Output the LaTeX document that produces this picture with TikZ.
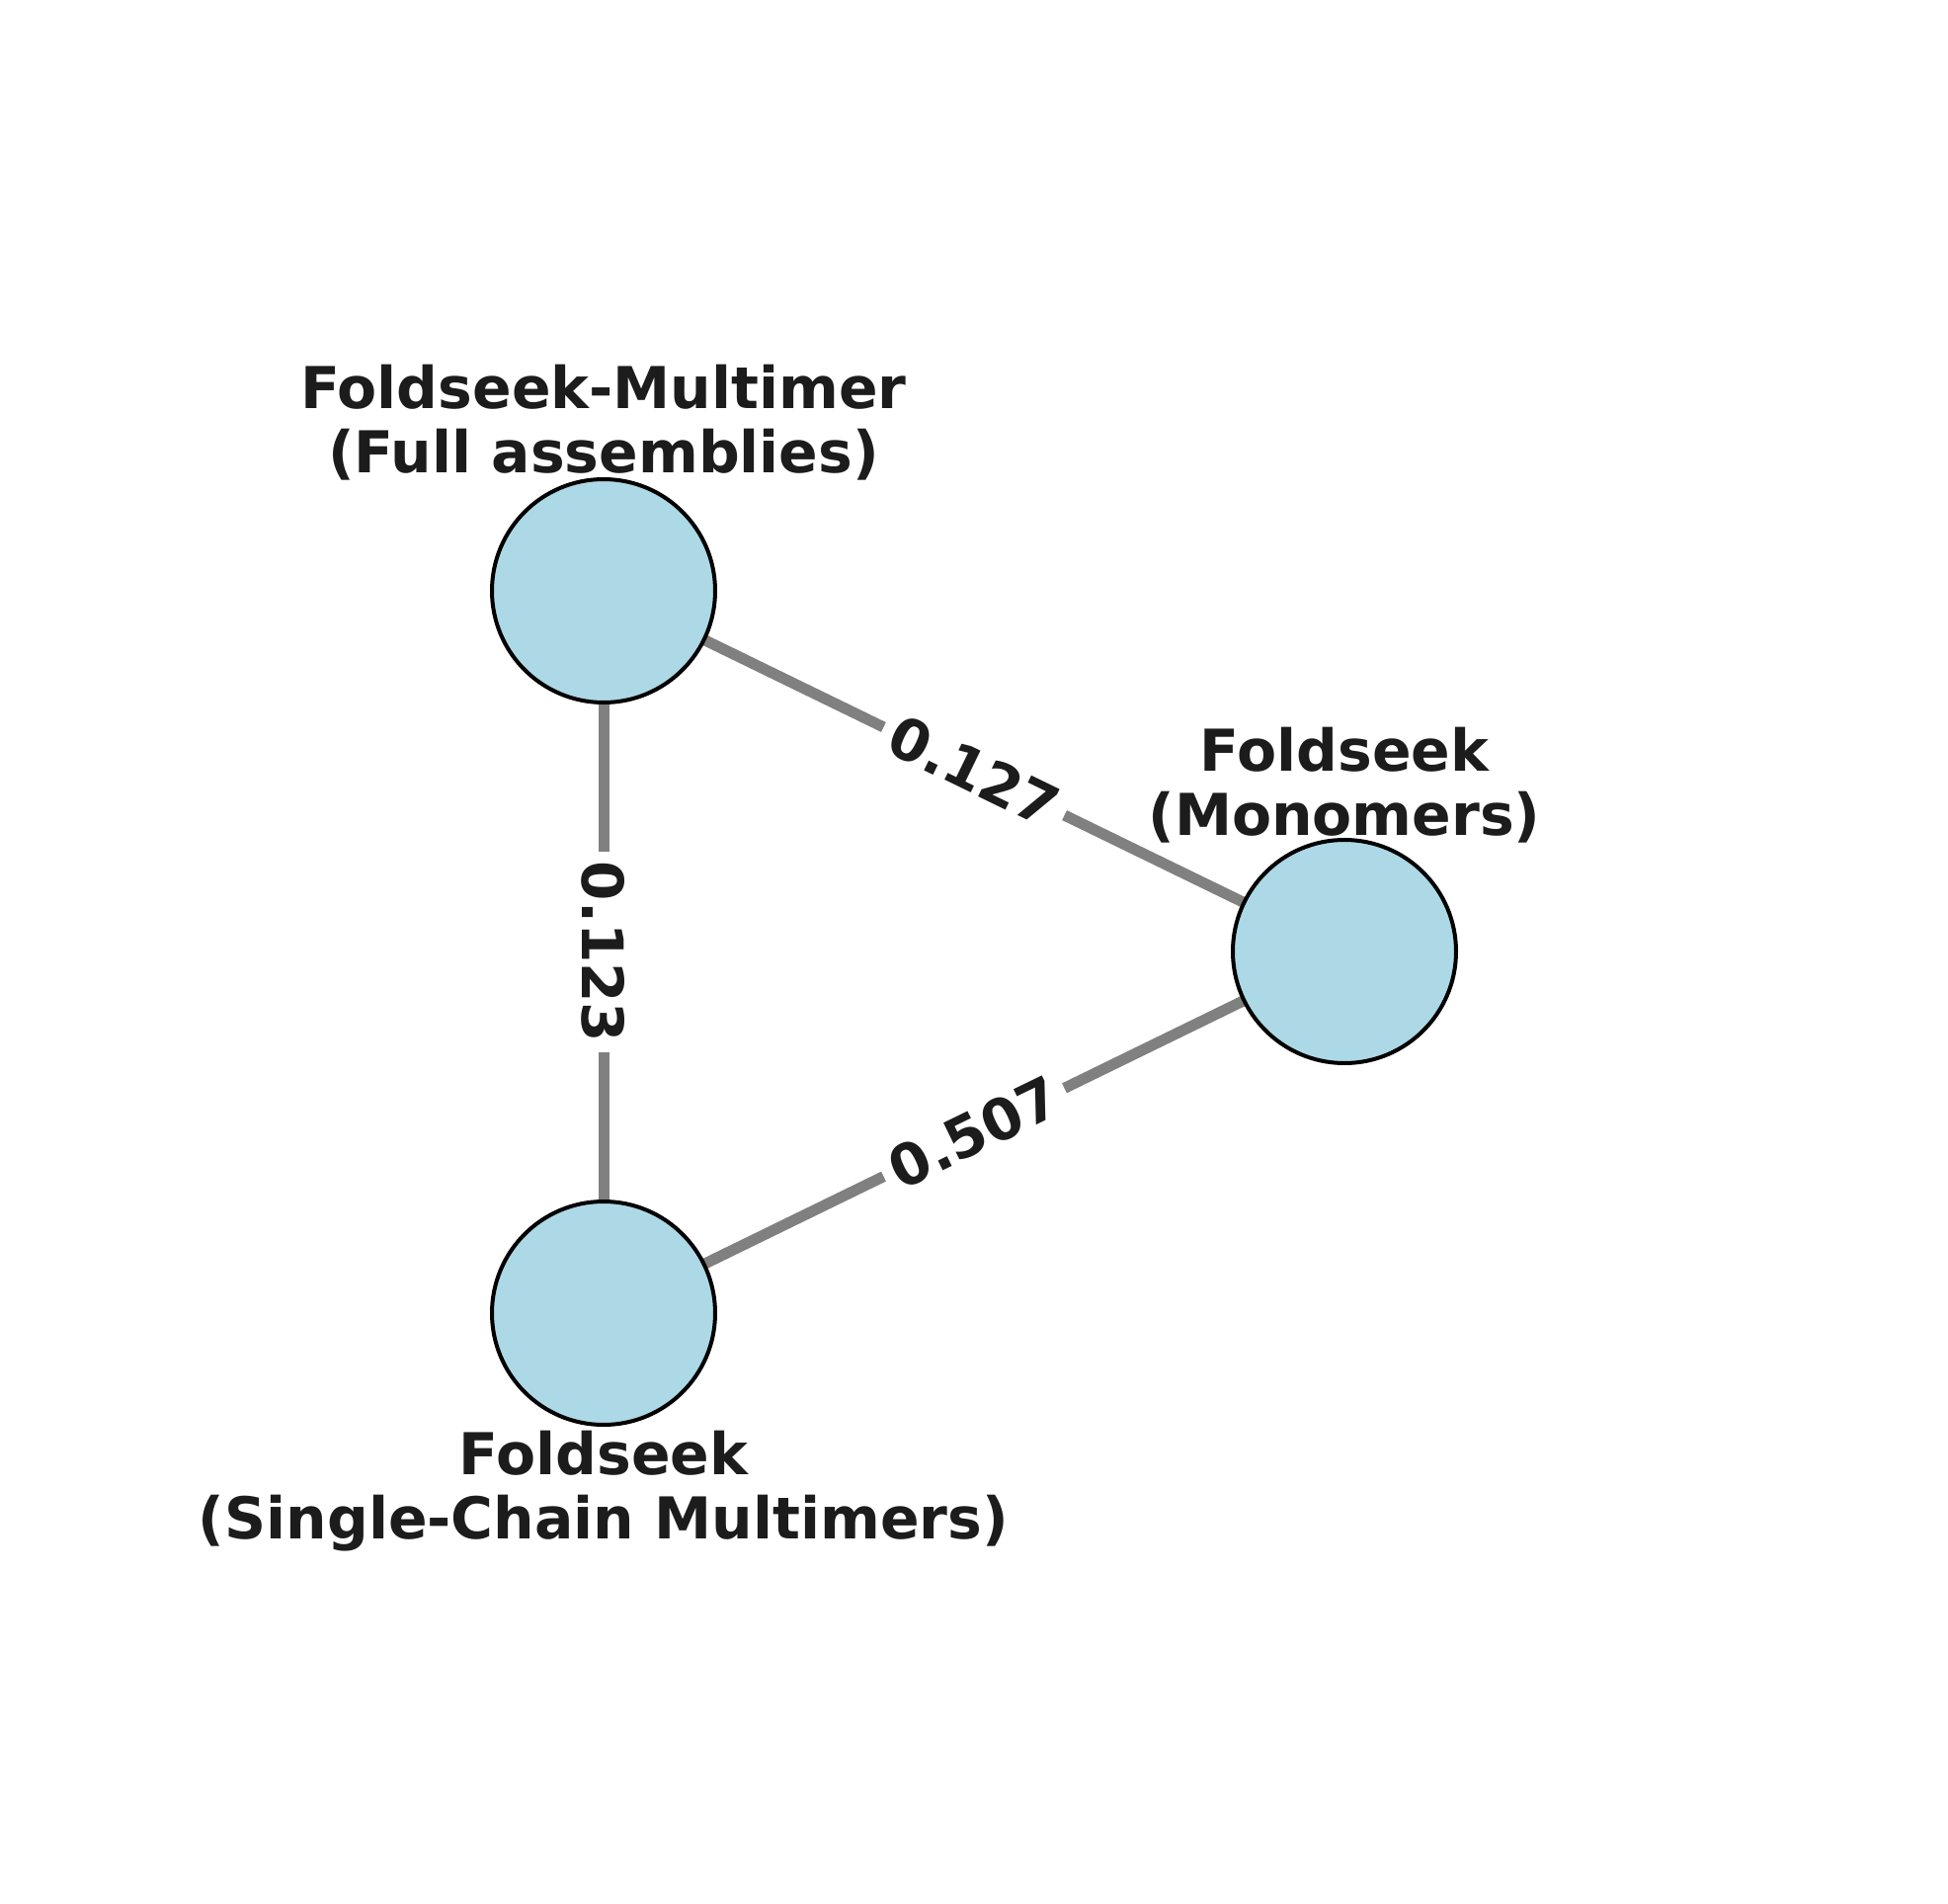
\documentclass[tikz,border=0pt]{standalone}
\usepackage{fontspec}
\setmainfont{DejaVu Sans}
\usetikzlibrary{backgrounds}
\definecolor{nodefill}{HTML}{ADD8E6}
\definecolor{edgegray}{HTML}{808080}
\definecolor{txt}{HTML}{1C1C1C}
\begin{document}
\begin{tikzpicture}[x=0.5pt,y=-0.5pt,
  vert/.style={circle,draw=black,fill=nodefill,line width=2pt,minimum size=113pt,inner sep=0pt,outer sep=0pt},
  nodelabel/.style={anchor=base,align=center,text=txt,inner sep=0pt,font=\fontsize{29.2}{32.5}\selectfont\bfseries},
  edge/.style={draw=edgegray,line width=5.5pt},
  weight/.style={fill=white,text=txt,inner sep=5pt,font=\fontsize{29}{31}\selectfont\bfseries}]
\useasboundingbox (0,0) rectangle (1972,1927);
\node[vert] (fm) at (611,598) {};
\node[vert] (mono) at (1361,963) {};
\node[vert] (sc) at (611,1329) {};
\node[nodelabel] (fmlab) at (611,478) {Foldseek-Multimer\\(Full assemblies)};
\node[nodelabel] (monolab) at (1361,845) {Foldseek\\(Monomers)};
\node[nodelabel] (sclab) at (611,1557) {Foldseek\\(Single-Chain Multimers)};
\begin{scope}[on background layer]
\fill[white] (0,0) rectangle (1972,1927);
\draw[edge] (fm.center) -- (sc.center) node[weight,midway,rotate=-90] (w1) {0.123};
\draw[edge] (fm.center) -- (mono.center) node[weight,midway,rotate=-25.95] (w2) {0.127};
\draw[edge] (sc.center) -- (mono.center) node[weight,midway,rotate=25.95] (w3) {0.507};
\end{scope}
\end{tikzpicture}
\end{document}
